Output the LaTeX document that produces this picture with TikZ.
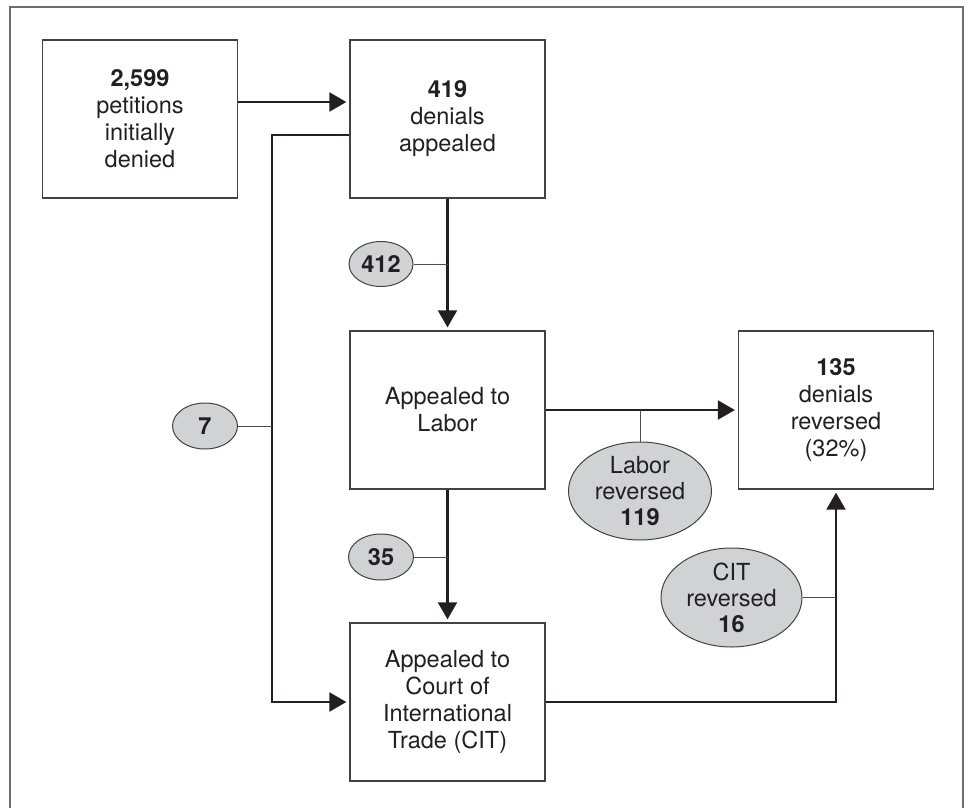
\documentclass[tikz,border=0pt]{standalone}
\usepackage{fontspec}
\setmainfont{TeX Gyre Heros}
\usetikzlibrary{arrows.meta,shapes.geometric}
\definecolor{ink}{HTML}{231F20}
\definecolor{ovalfill}{HTML}{D1D2D4}
\definecolor{framegray}{HTML}{6D6E71}
\begin{document}
\begin{tikzpicture}[x=1pt,y=-1pt,
 every node/.style={text=ink, font=\fontsize{23.5}{27}\selectfont, align=center},
 stepbox/.style={draw=ink!85, line width=1.3pt, minimum width=195pt, minimum height=158pt, inner sep=0pt},
 oval/.style={ellipse, draw=ink!85, fill=ovalfill, line width=1pt, inner xsep=0pt, inner ysep=-8pt, font=\fontsize{23.5}{26}\selectfont},
 flow/.style={draw=ink, line width=2.3pt, -{Triangle[length=17pt,width=19pt]}, shorten >=3pt},
 tick/.style={draw=ink!80, line width=1pt}]
\useasboundingbox (0,0) rectangle (970,808);
\draw[framegray, line width=1.3pt] (10,840) -- (10,7) -- (963,7) -- (963,840);

\node[stepbox] (A) at (140,119) {\textbf{2,599}\\petitions\\initially\\denied};
\node[stepbox] (B) at (447.5,119) {\textbf{419}\\denials\\appealed};
\node[stepbox] (L) at (447.5,410) {Appealed to\\Labor};
\node[stepbox] (R) at (836,410) {\textbf{135}\\denials\\reversed\\(32\%)};
\node[stepbox] (C) at (447.5,702) {Appealed to\\Court of\\International\\Trade (CIT)};

\node[oval, minimum width=64pt, minimum height=45pt] (n412) at (381,264) {\textbf{412}};
\node[oval, minimum width=65pt, minimum height=46pt] (n7) at (205,426) {\textbf{7}};
\node[oval, minimum width=65pt, minimum height=46pt] (n35) at (381,557) {\textbf{35}};
\node[oval, minimum width=143pt, minimum height=98pt] (nL) at (640,491) {Labor\\reversed\\\textbf{119}};
\node[oval, minimum width=141pt, minimum height=99pt] (nC) at (731.5,597.5) {CIT\\reversed\\\textbf{16}};

\coordinate (lx) at (272,426);

\draw[flow] ([yshift=17pt]A.east) -- ([yshift=17pt]B.west);
\draw[flow] ([yshift=-16pt]B.west) -| (lx) |- (C.west);
\draw[flow] (B.south) -- (L.north);
\draw[flow] (L.south) -- (C.north);
\draw[flow] (L.east) -- (R.west);
\draw[flow] (C.east) -| (R.south);

\draw[tick] (n412.east) -- (n412.east -| B.south);
\draw[tick] (n7.east) -- (lx);
\draw[tick] (n35.east) -- (n35.east -| L.south);
\draw[tick] (nL.north) -- (nL.north |- L.east);
\draw[tick] (nC.east) -- (nC.east -| R.south);
\end{tikzpicture}
\end{document}
